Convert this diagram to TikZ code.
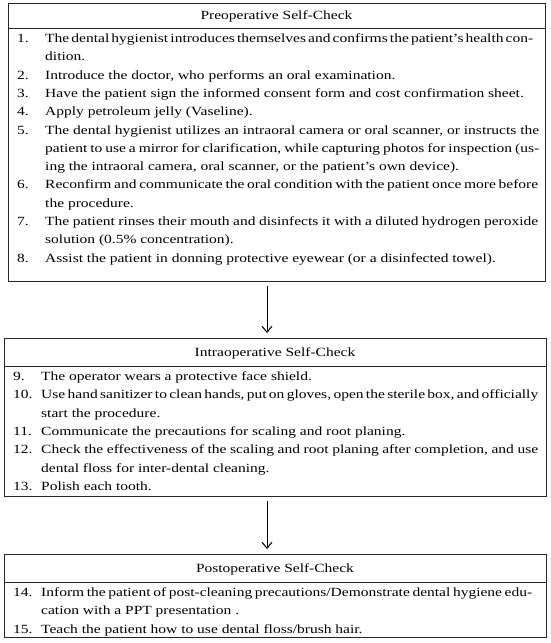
\documentclass[tikz,border=0pt]{standalone}
\usepackage{fontspec}
\setmainfont{Liberation Serif}[FakeStretch=1.24]
\usetikzlibrary{arrows.meta}
\newcommand{\jl}[2]{\makebox[#1pt][s]{#2}}
\newcommand{\jls}[2]{{\spaceskip=2.2pt plus 3pt minus 0.5pt\makebox[#1pt][s]{#2}}}
\tikzset{
  box/.style={draw=black!85, line width=0.9pt, rectangle, inner sep=0pt, outer sep=0pt, anchor=north west},
  sepline/.style={draw=black!85, line width=0.8pt},
  hdr/.style={anchor=base, inner sep=0pt, font=\fontsize{12.5}{15}\selectfont},
  txt/.style={anchor=base west, inner sep=0pt, font=\fontsize{12.5}{15}\selectfont},
  flow/.style={draw=black, line width=1pt, -{Straight Barb[length=6pt,width=10pt]}, shorten <=5pt, shorten >=5pt},
}
\begin{document}
\begin{tikzpicture}[x=1pt, y=-1pt]
\useasboundingbox (0,0) rectangle (550,643);

% boxes
\node[box, minimum width=537pt, minimum height=278pt] (b1) at (8,3) {};
\node[box, minimum width=542pt, minimum height=158pt] (b2) at (4,338) {};
\node[box, minimum width=542pt, minimum height=83pt] (b3) at (4,554) {};

% header separators
\draw[sepline] ([yshift=-25pt]b1.north west) -- ([yshift=-25pt]b1.north east);
\draw[sepline] ([yshift=-28pt]b2.north west) -- ([yshift=-28pt]b2.north east);
\draw[sepline] ([yshift=-28pt]b3.north west) -- ([yshift=-28pt]b3.north east);

% headers
\node[hdr] (h1) at (276.5,19.5) {Preoperative Self-Check};
\node[hdr] (h2) at (275,356) {Intraoperative Self-Check};
\node[hdr] (h3) at (275,572) {Postoperative Self-Check};

% box 1 numbers
\node[txt] (n1) at (17,42.5) {1.};
\node[txt] (n2) at (17,79.1) {2.};
\node[txt] (n3) at (17,97.4) {3.};
\node[txt] (n4) at (17,115.7) {4.};
\node[txt] (n5) at (17,134) {5.};
\node[txt] (n6) at (17,188.9) {6.};
\node[txt] (n7) at (17,225.5) {7.};
\node[txt] (n8) at (17,262.1) {8.};
% box 1 lines
\node[txt] (t1a) at (45,42.5) {\jls{488}{The dental hygienist introduces themselves and confirms the patient’s health con-}};
\node[txt] (t1b) at (45,60.8) {dition.};
\node[txt] (t2a) at (45,79.1) {Introduce the doctor, who performs an oral examination.};
\node[txt] (t3a) at (45,97.4) {Have the patient sign the informed consent form and cost confirmation sheet.};
\node[txt] (t4a) at (45,115.7) {Apply petroleum jelly (Vaseline).};
\node[txt] (t5a) at (45,134) {\jl{494}{The dental hygienist utilizes an intraoral camera or oral scanner, or instructs the}};
\node[txt] (t5b) at (45,152.3) {\jl{494}{patient to use a mirror for clarification, while capturing photos for inspection (us-}};
\node[txt] (t5c) at (45,170.6) {ing the intraoral camera, oral scanner, or the patient’s own device).};
\node[txt] (t6a) at (45,188.9) {\jl{493}{Reconfirm and communicate the oral condition with the patient once more before}};
\node[txt] (t6b) at (45,207.2) {the procedure.};
\node[txt] (t7a) at (45,225.5) {\jl{493}{The patient rinses their mouth and disinfects it with a diluted hydrogen peroxide}};
\node[txt] (t7b) at (45,243.8) {solution (0.5\% concentration).};
\node[txt] (t8a) at (45,262.1) {Assist the patient in donning protective eyewear (or a disinfected towel).};

% box 2
\node[txt] (n9) at (13,380.5) {9.};
\node[txt] (n10) at (13,398.8) {10.};
\node[txt] (n11) at (13,435.4) {11.};
\node[txt] (n12) at (13,453.7) {12.};
\node[txt] (n13) at (13,490.3) {13.};
\node[txt] (t9a) at (41,380.5) {The operator wears a protective face shield.};
\node[txt] (t10a) at (41,398.8) {\jls{497}{Use hand sanitizer to clean hands, put on gloves, open the sterile box, and officially}};
\node[txt] (t10b) at (41,417.1) {start the procedure.};
\node[txt] (t11a) at (41,435.4) {Communicate the precautions for scaling and root planing.};
\node[txt] (t12a) at (41,453.7) {\jl{497}{Check the effectiveness of the scaling and root planing after completion, and use}};
\node[txt] (t12b) at (41,472) {dental floss for inter-dental cleaning.};
\node[txt] (t13a) at (41,490.3) {Polish each tooth.};

% box 3
\node[txt] (n14) at (13,596.5) {14.};
\node[txt] (n15) at (13,633.1) {15.};
\node[txt] (t14a) at (41,596.5) {\jls{491}{Inform the patient of post-cleaning precautions/Demonstrate dental hygiene edu-}};
\node[txt] (t14b) at (41,614.8) {cation with a PPT presentation .};
\node[txt] (t15a) at (41,633.1) {Teach the patient how to use dental floss/brush hair.};

% connectors
\coordinate (ax) at (267,0);
\draw[flow] (b1.south -| ax) -- (b2.north -| ax);
\draw[flow] (b2.south -| ax) -- (b3.north -| ax);
\end{tikzpicture}
\end{document}
